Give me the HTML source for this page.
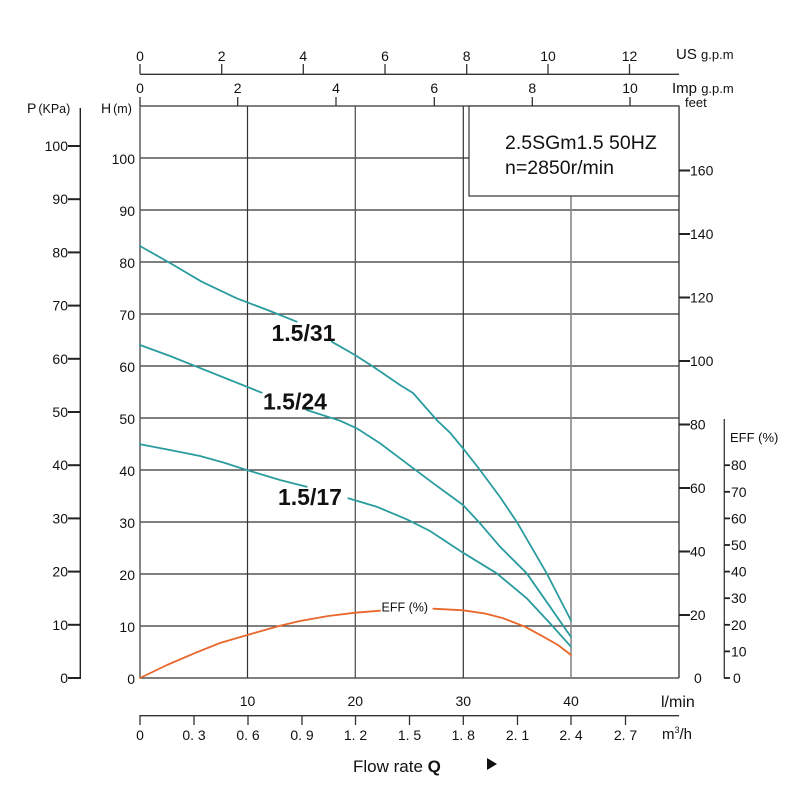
<!DOCTYPE html>
<html><head><meta charset="utf-8"><style>
html,body{margin:0;padding:0;background:#fff}
svg{display:block}
text{font-family:"Liberation Sans",sans-serif;fill:#111}
</style></head><body>
<svg width="800" height="800" viewBox="0 0 800 800" xmlns="http://www.w3.org/2000/svg">
<rect width="800" height="800" fill="#fff"/>
<!-- horizontal grid -->
<g stroke="#333" stroke-width="1.2">
<line x1="140" y1="626" x2="679" y2="626"/>
<line x1="140" y1="574" x2="679" y2="574"/>
<line x1="140" y1="522" x2="679" y2="522"/>
<line x1="140" y1="470" x2="679" y2="470"/>
<line x1="140" y1="418" x2="679" y2="418"/>
<line x1="140" y1="366" x2="679" y2="366"/>
<line x1="140" y1="314" x2="679" y2="314"/>
<line x1="140" y1="262" x2="679" y2="262"/>
<line x1="140" y1="210" x2="679" y2="210"/>
<line x1="140" y1="158" x2="679" y2="158"/>
<line x1="140" y1="678" x2="679" y2="678"/>
<line x1="140" y1="106" x2="679" y2="106"/>
</g>
<!-- vertical grid -->
<line x1="140" y1="106" x2="140" y2="678" stroke="#666" stroke-width="1.6"/>
<line x1="247.5" y1="106" x2="247.5" y2="678" stroke="#333" stroke-width="1.2"/>
<line x1="355.3" y1="106" x2="355.3" y2="678" stroke="#555" stroke-width="1.3"/>
<line x1="463.3" y1="106" x2="463.3" y2="678" stroke="#333" stroke-width="1.2"/>
<line x1="571" y1="106" x2="571" y2="678" stroke="#888" stroke-width="1.6"/>
<line x1="679" y1="106" x2="679" y2="678" stroke="#333" stroke-width="1.3"/>
<!-- legend box -->
<rect x="469" y="106" width="210" height="90" fill="#fff" stroke="#333" stroke-width="1.2"/>
<text x="505" y="149" font-size="19.5">2.5SGm1.5 50HZ</text>
<text x="505" y="174" font-size="19.5">n=2850r/min</text>

<!-- curves -->
<g fill="none" stroke="#2a9c9f" stroke-width="1.8" stroke-linejoin="round" stroke-linecap="round">
<polyline points="140,246 170,263 201.7,281.7 236.7,298.3 270,311 296.7,321.7"/>
<polyline points="331.7,341.7 355,355 373.3,366.7 400,385 413,393 436.7,420 450,432.7 463,448.3 480,470 500,497 516.7,521.7 546.7,573.3 571,620.5"/>
<polyline points="140,345 170,356 196.7,366.7 230,380 261.7,392.7"/>
<polyline points="306.7,410 340,420.7 356.7,428.3 380,443.3 400,458.3 413.3,468.3 433.3,483.3 450,495.5 463,505 480,523.3 500,546.7 526.7,573.3 550,606.7 571,637"/>
<polyline points="140,444.3 170,450 200,456 225,463 246.7,470 280,480 306.7,486.7"/>
<polyline points="348.3,498.3 376.7,506.7 406.7,519.3 430,531 463,552.7 496.7,573.3 526.7,598.3 550,623.3 571,646.7"/>
</g>
<g fill="none" stroke="#e8672b" stroke-width="1.8" stroke-linejoin="round" stroke-linecap="round">
<polyline points="140,678 167,665 194.3,653.3 220,643 247.3,635 280,625.7 300,621 328.3,616 355.3,612.7 380,610.7"/>
<polyline points="433.3,608.7 463,610.3 485,613.5 503.3,618.3 525,626.7 543.3,636.7 558,645 571,655"/>
</g>
<text x="271.5" y="341" font-size="23" font-weight="bold">1.5/31</text>
<text x="263" y="409.5" font-size="23" font-weight="bold">1.5/24</text>
<text x="278" y="505" font-size="23" font-weight="bold">1.5/17</text>
<text x="381.5" y="611.5" font-size="12.5">EFF (%)</text>

<!-- left P axis -->
<line x1="80.3" y1="108" x2="80.3" y2="678" stroke="#222" stroke-width="1.4"/>
<g stroke="#222" stroke-width="2">
<line x1="68" y1="146" x2="81" y2="146"/>
<line x1="68" y1="199.2" x2="81" y2="199.2"/>
<line x1="68" y1="252.4" x2="81" y2="252.4"/>
<line x1="68" y1="305.6" x2="81" y2="305.6"/>
<line x1="68" y1="358.8" x2="81" y2="358.8"/>
<line x1="68" y1="412" x2="81" y2="412"/>
<line x1="68" y1="465.2" x2="81" y2="465.2"/>
<line x1="68" y1="518.4" x2="81" y2="518.4"/>
<line x1="68" y1="571.6" x2="81" y2="571.6"/>
<line x1="68" y1="624.8" x2="81" y2="624.8"/>
<line x1="68" y1="678" x2="81" y2="678"/>
</g>
<g font-size="14" text-anchor="end">
<text x="68" y="151">100</text>
<text x="68" y="204.2">90</text>
<text x="68" y="257.4">80</text>
<text x="68" y="310.6">70</text>
<text x="68" y="363.8">60</text>
<text x="68" y="417">50</text>
<text x="68" y="470.2">40</text>
<text x="68" y="523.4">30</text>
<text x="68" y="576.6">20</text>
<text x="68" y="629.8">10</text>
<text x="68" y="683">0</text>
</g>
<text x="27" y="113" font-size="14">P<tspan font-size="12.5" dx="2">(KPa)</tspan></text>
<text x="101" y="113" font-size="14">H<tspan font-size="12.5" dx="2">(m)</tspan></text>

<!-- H labels -->
<g font-size="14" text-anchor="end">
<text x="135" y="164">100</text>
<text x="135" y="216">90</text>
<text x="135" y="268">80</text>
<text x="135" y="320">70</text>
<text x="135" y="372">60</text>
<text x="135" y="424">50</text>
<text x="135" y="476">40</text>
<text x="135" y="528">30</text>
<text x="135" y="580">20</text>
<text x="135" y="632">10</text>
<text x="135" y="684">0</text>
</g>

<!-- top US axis -->
<line x1="140" y1="74.3" x2="679" y2="74.3" stroke="#333" stroke-width="1.3"/>
<g stroke="#333" stroke-width="1.3">
<line x1="140" y1="64" x2="140" y2="74"/>
<line x1="221.7" y1="64" x2="221.7" y2="74"/>
<line x1="303.3" y1="64" x2="303.3" y2="74"/>
<line x1="385" y1="64" x2="385" y2="74"/>
<line x1="466.7" y1="64" x2="466.7" y2="74"/>
<line x1="548" y1="64" x2="548" y2="74"/>
<line x1="629.5" y1="64" x2="629.5" y2="74"/>
</g>
<g font-size="14" text-anchor="middle">
<text x="140" y="61">0</text>
<text x="221.7" y="61">2</text>
<text x="303.3" y="61">4</text>
<text x="385" y="61">6</text>
<text x="466.7" y="61">8</text>
<text x="548" y="61">10</text>
<text x="629.5" y="61">12</text>
</g>
<text x="676" y="59" font-size="15">US <tspan font-size="13">g.p.m</tspan></text>

<!-- top Imp axis -->
<g stroke="#333" stroke-width="1.3">
<line x1="140" y1="97" x2="140" y2="106"/>
<line x1="237.7" y1="97" x2="237.7" y2="106"/>
<line x1="336" y1="97" x2="336" y2="106"/>
<line x1="434.3" y1="97" x2="434.3" y2="106"/>
<line x1="532.3" y1="97" x2="532.3" y2="106"/>
<line x1="630" y1="97" x2="630" y2="106"/>
</g>
<g font-size="14" text-anchor="middle">
<text x="140" y="93">0</text>
<text x="237.7" y="93">2</text>
<text x="336" y="93">4</text>
<text x="434.3" y="93">6</text>
<text x="532.3" y="93">8</text>
<text x="630" y="93">10</text>
</g>
<text x="672" y="93" font-size="15">Imp <tspan font-size="13">g.p.m</tspan></text>
<text x="685" y="107" font-size="13">feet</text>

<!-- feet axis -->
<g stroke="#222" stroke-width="2">
<line x1="679" y1="170.5" x2="690" y2="170.5"/>
<line x1="679" y1="234" x2="690" y2="234"/>
<line x1="679" y1="297.5" x2="690" y2="297.5"/>
<line x1="679" y1="361" x2="690" y2="361"/>
<line x1="679" y1="424.5" x2="690" y2="424.5"/>
<line x1="679" y1="488" x2="690" y2="488"/>
<line x1="679" y1="551.5" x2="690" y2="551.5"/>
<line x1="679" y1="615" x2="690" y2="615"/>
</g>
<g font-size="14">
<text x="690" y="175.5">160</text>
<text x="690" y="239">140</text>
<text x="690" y="302.5">120</text>
<text x="690" y="366">100</text>
<text x="690" y="429.5">80</text>
<text x="690" y="493">60</text>
<text x="690" y="556.5">40</text>
<text x="690" y="620">20</text>
<text x="694" y="683">0</text>
</g>

<!-- EFF axis -->
<line x1="724.3" y1="419" x2="724.3" y2="678" stroke="#444" stroke-width="1.4"/>
<g stroke="#222" stroke-width="1.8">
<line x1="724" y1="465.2" x2="730" y2="465.2"/>
<line x1="724" y1="491.8" x2="730" y2="491.8"/>
<line x1="724" y1="518.4" x2="730" y2="518.4"/>
<line x1="724" y1="545" x2="730" y2="545"/>
<line x1="724" y1="571.6" x2="730" y2="571.6"/>
<line x1="724" y1="598.2" x2="730" y2="598.2"/>
<line x1="724" y1="624.8" x2="730" y2="624.8"/>
<line x1="724" y1="651.4" x2="730" y2="651.4"/>
<line x1="724" y1="678" x2="730" y2="678"/>
</g>
<g font-size="14">
<text x="731" y="470.2">80</text>
<text x="731" y="496.8">70</text>
<text x="731" y="523.4">60</text>
<text x="731" y="550">50</text>
<text x="731" y="576.6">40</text>
<text x="731" y="603.2">30</text>
<text x="731" y="629.8">20</text>
<text x="731" y="656.4">10</text>
<text x="733" y="683">0</text>
</g>
<text x="730" y="442" font-size="13">EFF (%)</text>

<!-- bottom l/min labels -->
<g font-size="14" text-anchor="middle">
<text x="247.5" y="706">10</text>
<text x="355.3" y="706">20</text>
<text x="463.3" y="706">30</text>
<text x="571" y="706">40</text>
</g>
<text x="661" y="707" font-size="16">l/min</text>

<!-- m3/h axis -->
<line x1="140" y1="715.7" x2="679" y2="715.7" stroke="#333" stroke-width="1.3"/>
<g stroke="#333" stroke-width="1.3">
<line x1="140" y1="715" x2="140" y2="725"/>
<line x1="194" y1="715" x2="194" y2="725"/>
<line x1="248" y1="715" x2="248" y2="725"/>
<line x1="302" y1="715" x2="302" y2="725"/>
<line x1="355.5" y1="715" x2="355.5" y2="725"/>
<line x1="409.5" y1="715" x2="409.5" y2="725"/>
<line x1="463.3" y1="715" x2="463.3" y2="725"/>
<line x1="517.5" y1="715" x2="517.5" y2="725"/>
<line x1="571" y1="715" x2="571" y2="725"/>
<line x1="625.5" y1="715" x2="625.5" y2="725"/>
</g>
<g font-size="14" text-anchor="middle">
<text x="140" y="740">0</text>
<text x="194" y="740" xml:space="preserve">0. 3</text>
<text x="248" y="740" xml:space="preserve">0. 6</text>
<text x="302" y="740" xml:space="preserve">0. 9</text>
<text x="355.5" y="740" xml:space="preserve">1. 2</text>
<text x="409.5" y="740" xml:space="preserve">1. 5</text>
<text x="463.3" y="740" xml:space="preserve">1. 8</text>
<text x="517.5" y="740" xml:space="preserve">2. 1</text>
<text x="571" y="740" xml:space="preserve">2. 4</text>
<text x="625.5" y="740" xml:space="preserve">2. 7</text>
</g>
<text x="662" y="739" font-size="15">m<tspan font-size="9" dy="-6">3</tspan><tspan dy="6">/h</tspan></text>

<!-- title -->
<text x="353" y="772" font-size="17">Flow rate <tspan font-weight="bold">Q</tspan></text>
<polygon points="487,758 497,764 487,770" fill="#111"/>
</svg>
</body></html>
